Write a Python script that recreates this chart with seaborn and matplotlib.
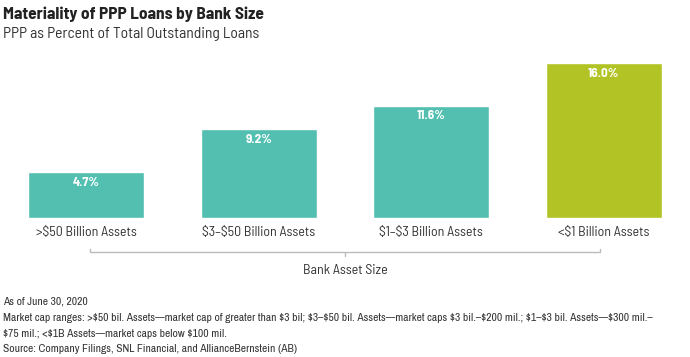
import matplotlib
matplotlib.use("Agg")
import matplotlib.pyplot as plt
import matplotlib.transforms as mtransforms
from matplotlib.lines import Line2D
import seaborn as sns
import pandas as pd

categories = [">$50 Billion Assets", "$3\u2013$50 Billion Assets", "$1\u2013$3 Billion Assets", "<$1 Billion Assets"]
values = [4.7, 9.2, 11.6, 16.0]
value_labels = ["4.7%", "9.2%", "11.6%", "16.0%"]
colors = ["#52BFB0", "#52BFB0", "#52BFB0", "#B2C425"]

title = "Materiality of PPP Loans by Bank Size"
subtitle = "PPP as Percent of Total Outstanding Loans"
xlabel = "Bank Asset Size"
notes = [
    "As of June 30, 2020",
    "Market cap ranges: >$50 bil. Assets\u2014market cap of greater than $3 bil; $3\u2013$50 bil. Assets\u2014market caps $3 bil.\u2013$200 mil.; $1\u2013$3 bil. Assets\u2014$300 mil.\u2013",
    "$75 mil.; <$1B Assets\u2014market caps below $100 mil.",
    "Source: Company Filings, SNL Financial, and AllianceBernstein (AB)",
]

sns.set_theme(style="white")
DIN = ["Barlow Semi Condensed", "DejaVu Sans"]
NARROW = ["Archivo Narrow", "Liberation Sans", "DejaVu Sans"]
plt.rcParams['font.family'] = DIN
plt.rcParams['text.parse_math'] = False

df = pd.DataFrame({"cat": categories, "val": values})

fig = plt.figure(figsize=(6.9, 3.57), dpi=100)
ax = fig.add_axes([0.0, 1 - 218 / 357, 1.0, (218 - 63) / 357])

sns.barplot(data=df, x="cat", y="val", hue="cat", palette=colors, legend=False,
            width=0.672, ax=ax, saturation=1)
ax.set_xlim(-0.5, 3.5)
ax.set_ylim(0, 16)
for s in ax.spines.values():
    s.set_visible(False)
ax.set_yticks([])
ax.set_ylabel("")
ax.set_xlabel("")
ax.tick_params(axis="x", length=0, pad=6)
ax.set_xticks(range(len(categories)))
ax.set_xticklabels(categories, fontsize=10, color="#333333")

for i, (v, lab) in enumerate(zip(values, value_labels)):
    ax.annotate(lab, (i, v), xytext=(0, -3.5), textcoords="offset points",
                ha="center", va="top", color="white", fontsize=9.5, fontweight="bold")

# bracket
trans = mtransforms.blended_transform_factory(ax.transData, ax.transAxes)
yb = (218 - 252) / 155
ye = (218 - 248.5) / 155
ym = (218 - 256) / 155
lc = "#BBBBBB"
ax.add_line(Line2D([0.02, 0.02, 2.98, 2.98], [ye, yb, yb, ye], transform=trans,
                   color=lc, lw=1, clip_on=False))
ax.add_line(Line2D([1.5, 1.5], [yb, ym], transform=trans, color=lc, lw=1, clip_on=False))
fig.text(0.5, 1 - 271 / 357, xlabel, ha="center", va="center", fontsize=10,
         color="#333333")

fig.text(3 / 690, 1 - 14 / 357, title, ha="left", va="center", fontsize=12.5,
         fontweight="bold", color="#222222")
fig.text(3 / 690, 1 - 34 / 357, subtitle, ha="left", va="center", fontsize=11.2,
         color="#333333")

note_y = [302, 318, 334, 349]
for t, y in zip(notes, note_y):
    fig.text(3 / 690, 1 - y / 357, t, ha="left", va="center", fontsize=8.3,
             color="#333333", family=NARROW)

fig.savefig("out.png", dpi=100)
